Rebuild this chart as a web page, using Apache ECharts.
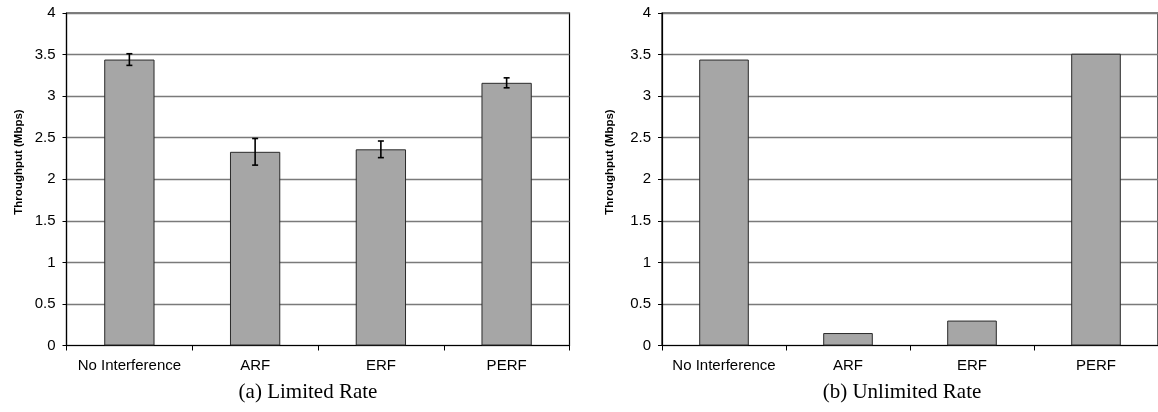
<!DOCTYPE html>
<html>
<head>
<meta charset="utf-8">
<script src="https://cdn.jsdelivr.net/npm/echarts@6/dist/echarts.min.js"></script>
<style>
  html, body { margin: 0; padding: 0; background: #fff; }
  #chart { width: 1158px; height: 412px; }
</style>
</head>
<body>
<div id="chart"></div>
<script>
// Throughput per scheme, two experiments side by side
const categories = ['No Interference', 'ARF', 'ERF', 'PERF'];
const limitedRate = [3.44, 2.33, 2.36, 3.16];      // (a) Limited Rate, mean
const limitedErr = [0.07, 0.16, 0.10, 0.06];       // (a) half-width of error bars
const unlimitedRate = [3.44, 0.15, 0.30, 3.51];    // (b) Unlimited Rate
const yTicks = [0, 0.5, 1, 1.5, 2, 2.5, 3, 3.5, 4];
const captions = ['(a) Limited Rate', '(b) Unlimited Rate'];
const axisTitle = 'Throughput (Mbps)';

const errData = limitedRate.map((v, i) => [i, v - limitedErr[i], v + limitedErr[i]]);

const sans = 'Liberation Sans, Arial, sans-serif';
const serif = 'Liberation Serif, Times New Roman, serif';
const barColor = '#a6a6a6';

const grids = [
  { left: 66.5, top: 13, width: 503, height: 332.5 },
  { left: 662, top: 13, width: 502, height: 332.5 }
];

function xAxisFor(gi) {
  return {
    type: 'category', gridIndex: gi, data: categories,
    axisLine: { lineStyle: { color: '#000', width: 1.2 } },
    axisTick: { show: true, alignWithLabel: false, length: 5, lineStyle: { color: '#000' } },
    axisLabel: { color: '#000', fontFamily: sans, fontSize: 15, margin: 13, interval: 0 }
  };
}
function yAxisFor(gi) {
  return {
    type: 'value', gridIndex: gi, min: yTicks[0], max: yTicks[yTicks.length - 1], interval: 0.5,
    axisLine: { show: true, lineStyle: { color: '#000', width: 1.2 } },
    axisTick: { show: true, length: 4, lineStyle: { color: '#000' } },
    axisLabel: { color: '#000', fontFamily: sans, fontSize: 15, margin: 11 },
    splitLine: { show: true, lineStyle: { color: '#7a7a7a', width: 1.4 } }
  };
}

const barStyle = { color: barColor, borderColor: '#2a2a2a', borderWidth: 1 };

const option = {
  animation: false,
  backgroundColor: '#fff',
  grid: grids.map(g => Object.assign({ show: true, borderColor: '#000', borderWidth: 1.2, backgroundColor: 'transparent' }, g)),
  xAxis: [xAxisFor(0), xAxisFor(1)],
  yAxis: [yAxisFor(0), yAxisFor(1)],
  series: [
    {
      type: 'bar', xAxisIndex: 0, yAxisIndex: 0, data: limitedRate,
      barWidth: '40%', itemStyle: barStyle, z: 2
    },
    {
      type: 'custom', xAxisIndex: 0, yAxisIndex: 0, data: errData, z: 3,
      renderItem: function (params, api) {
        const x = api.value(0);
        const lo = api.coord([x, api.value(1)]);
        const hi = api.coord([x, api.value(2)]);
        const cap = 3;
        const st = { stroke: '#000', lineWidth: 1.6 };
        return {
          type: 'group',
          children: [
            { type: 'line', shape: { x1: lo[0], y1: lo[1], x2: hi[0], y2: hi[1] }, style: st },
            { type: 'line', shape: { x1: hi[0] - cap, y1: hi[1], x2: hi[0] + cap, y2: hi[1] }, style: st },
            { type: 'line', shape: { x1: lo[0] - cap, y1: lo[1], x2: lo[0] + cap, y2: lo[1] }, style: st }
          ]
        };
      }
    },
    {
      type: 'bar', xAxisIndex: 1, yAxisIndex: 1, data: unlimitedRate,
      barWidth: '40%', itemStyle: barStyle, z: 2
    }
  ],
  graphic: [
    {
      type: 'text', x: 19, y: 162, rotation: Math.PI / 2,
      style: { text: axisTitle, fill: '#000', font: 'bold 11.5px ' + sans, align: 'center', verticalAlign: 'middle' }
    },
    {
      type: 'text', x: 610, y: 162, rotation: Math.PI / 2,
      style: { text: axisTitle, fill: '#000', font: 'bold 11.5px ' + sans, align: 'center', verticalAlign: 'middle' }
    },
    {
      type: 'text', x: 308, y: 392,
      style: { text: captions[0], fill: '#000', font: '21px ' + serif, align: 'center', verticalAlign: 'middle' }
    },
    {
      type: 'text', x: 902, y: 392,
      style: { text: captions[1], fill: '#000', font: '21px ' + serif, align: 'center', verticalAlign: 'middle' }
    }
  ]
};

echarts.init(document.getElementById('chart'), null, { renderer: 'canvas' }).setOption(option);
</script>
</body>
</html>
